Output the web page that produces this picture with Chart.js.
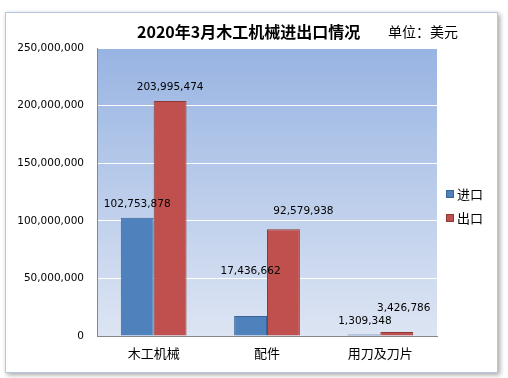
<!DOCTYPE html>
<html>
<head>
<meta charset="utf-8">
<script src="https://cdn.jsdelivr.net/npm/chart.js@4.4.1/dist/chart.umd.min.js"></script>
<style>
    html, body { margin: 0; padding: 0; background: #fff; }
    #wrap { position: relative; width: 508px; height: 378px; }
    #frame {
        position: absolute; left: 5px; top: 12px; width: 491px; height: 359px;
        border: 1px solid #b4c6e0; box-shadow: 2px 2px 5px rgba(0, 0, 0, 0.35);
        background: #fff;
    }
    canvas { position: absolute; left: 0; top: 0; }
</style>
</head>
<body>
<div id="wrap">
    <div id="frame"></div>
    <canvas id="chart" width="508" height="378"></canvas>
</div>
<script>
const categories = ['木工机械', '配件', '用刀及刀片'];
const importValues = [102753878, 17436662, 1309348];
const exportValues = [203995474, 92579938, 3426786];
const seriesNames = ['进口', '出口'];
const yTicks = [0, 50000000, 100000000, 150000000, 200000000, 250000000];

const numFont = '"DejaVu Sans", Verdana, sans-serif';
const cjkFont = '"Noto Sans CJK SC", "Noto Sans", sans-serif';

// label shifts [dx, dy] per dataset / bar, to follow the manual placement in the picture
const labelShift = [
    [[0, 0], [0, -31], [1, 0]],
    [[0, 0], [20, -5], [7, -10]]
];

const bgPlugin = {
    id: 'plotBg',
    beforeDraw(chart) {
        const { ctx, chartArea: a } = chart;
        const g = ctx.createLinearGradient(0, a.top, 0, a.bottom);
        g.addColorStop(0, 'rgb(152,180,226)');
        g.addColorStop(1, 'rgb(221,229,243)');
        ctx.save();
        ctx.fillStyle = g;
        ctx.fillRect(a.left, a.top, a.right - a.left, a.bottom - a.top);
        ctx.restore();
    }
};

const labelPlugin = {
    id: 'barLabels',
    afterDatasetsDraw(chart) {
        const ctx = chart.ctx;
        ctx.save();
        ctx.font = '10.5px ' + numFont;
        ctx.fillStyle = '#000';
        ctx.textAlign = 'center';
        ctx.textBaseline = 'middle';
        chart.data.datasets.forEach((ds, i) => {
            chart.getDatasetMeta(i).data.forEach((bar, j) => {
                const s = labelShift[i][j];
                ctx.fillText(ds.data[j].toLocaleString('en-US'), bar.x + s[0], bar.y - 13.5 + s[1]);
            });
        });
        ctx.restore();
    }
};

const titlePlugin = {
    id: 'titles',
    afterDraw(chart) {
        const ctx = chart.ctx;
        ctx.save();
        ctx.fillStyle = '#000';
        ctx.textBaseline = 'middle';
        ctx.textAlign = 'left';
        ctx.font = 'bold 16px ' + cjkFont;
        ctx.fillText('2020年3月木工机械进出口情况', 137, 32);
        ctx.font = '14px ' + cjkFont;
        ctx.fillText('单位：美元', 388, 32);

        // legend
        ctx.font = '13px ' + cjkFont;
        chart.data.datasets.forEach((ds, i) => {
            const y = 194 + i * 24;
            ctx.fillStyle = ds.backgroundColor;
            ctx.fillRect(446, y - 4, 8, 8);
            ctx.strokeStyle = ds.borderColor;
            ctx.lineWidth = 1;
            ctx.strokeRect(446.5, y - 3.5, 7, 7);
            ctx.fillStyle = '#000';
            ctx.fillText(ds.label, 457, y);
        });
        ctx.restore();
    }
};

new Chart(document.getElementById('chart').getContext('2d'), {
    type: 'bar',
    data: {
        labels: categories,
        datasets: [{
            label: seriesNames[0],
            data: importValues,
            backgroundColor: '#4f81bd',
            borderColor: '#3b6594',
            borderWidth: 1
        }, {
            label: seriesNames[1],
            data: exportValues,
            backgroundColor: '#c0504d',
            borderColor: '#8e3936',
            borderWidth: 1
        }]
    },
    options: {
        responsive: false,
        animation: false,
        layout: { padding: { left: 0, top: 48, right: 71, bottom: 12 } },
        datasets: { bar: { categoryPercentage: 0.58, barPercentage: 1 } },
        plugins: {
            legend: { display: false },
            title: { display: false },
            tooltip: { enabled: false }
        },
        scales: {
            x: {
                grid: { display: false, drawTicks: false },
                border: { display: true, color: '#868686' },
                ticks: {
                    color: '#000',
                    padding: 9,
                    font: { family: cjkFont, size: 13 }
                },
                afterFit(scale) { scale.height = 30; }
            },
            y: {
                min: 0,
                max: 250000000,
                afterBuildTicks(scale) { scale.ticks = yTicks.map(v => ({ value: v })); },
                grid: {
                    drawTicks: false,
                    color: c => (c.tick && c.tick.value === 0) ? 'rgba(0,0,0,0)' : '#ffffff'
                },
                border: { display: true, color: '#868686' },
                ticks: {
                    color: '#000',
                    padding: 13,
                    font: { family: numFont, size: 10.5 },
                    callback: v => v.toLocaleString('en-US')
                },
                afterFit(scale) { scale.width = 97; }
            }
        }
    },
    plugins: [bgPlugin, labelPlugin, titlePlugin]
});
</script>
</body>
</html>
